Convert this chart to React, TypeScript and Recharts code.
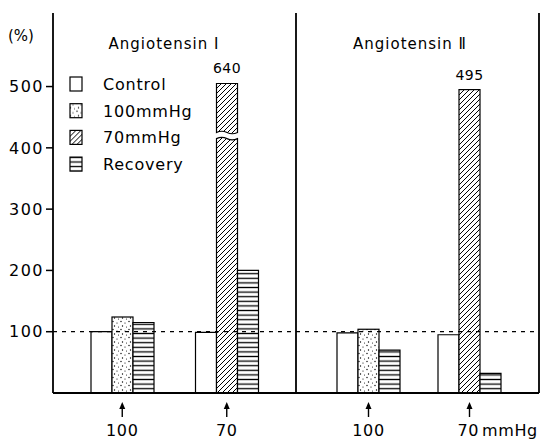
import React from 'react';
import { BarChart, Bar, XAxis, YAxis, ReferenceLine, Cell, LabelList } from 'recharts';

// values in % of control
const panelTitles = ['Angiotensin \u2160', 'Angiotensin \u2161'];
const categories = ['100', '70'];
const tickLabelsI = ['100', '70'];
const tickLabelsII = ['100', '70mmHg'];
const controlI = [100, 99];
const pressureI = [124, 640];
const recoveryI = [115, 200];
const controlII = [98, 95];
const pressureII = [104, 495];
const recoveryII = [70, 32];
const legendNames = ['Control', '100mmHg', '70mmHg', 'Recovery'];
const yTicks = [100, 200, 300, 400, 500];

const Y_MAX = 620;
const CAP = 505; // taller bars are drawn broken
const BREAK = [415, 425];
const FONT = 'DejaVu Sans';

const pressureFill: Record<string, string> = { '100': 'url(#stipple)', '70': 'url(#hatch)' };
const legendFills = ['#fff', 'url(#stipple)', 'url(#hatch)', 'url(#hlines)'];

const makeRows = (ticks: string[], c: number[], p: number[], r: number[]) =>
  categories.map((cat, i) => ({
    cat,
    tick: ticks[i],
    control: c[i],
    pressure: p[i],
    shown: Math.min(p[i], CAP),
    recovery: r[i],
  }));

const rowsI = makeRows(tickLabelsI, controlI, pressureI, recoveryI);
const rowsII = makeRows(tickLabelsII, controlII, pressureII, recoveryII);

const BrokenBar = (props: any) => {
  const { x, y, width, height, fill, payload } = props;
  if (payload.pressure <= CAP) {
    return <rect x={x} y={y} width={width} height={height} fill={fill} stroke="#000" strokeWidth={1.2} />;
  }
  const ppu = height / payload.shown;
  const base = y + height;
  const yA = base - BREAK[1] * ppu;
  const yB = base - BREAK[0] * ppu;
  const w = width;
  const upper = `M${x},${y} H${x + w} V${yA} Q${x + w * 0.75},${yA + 2.5} ${x + w / 2},${yA} Q${x + w * 0.25},${yA - 2.5} ${x},${yA} Z`;
  const lower = `M${x},${base} V${yB} Q${x + w * 0.25},${yB - 2.5} ${x + w / 2},${yB} Q${x + w * 0.75},${yB + 2.5} ${x + w},${yB} V${base} Z`;
  return (
    <g>
      <path d={upper} fill={fill} stroke="#000" strokeWidth={1.2} />
      <path d={lower} fill={fill} stroke="#000" strokeWidth={1.2} />
    </g>
  );
};

const ArrowTick = (props: any) => {
  const { x, y, payload } = props;
  const v = String(payload.value);
  const unit = v.endsWith('mmHg');
  const num = unit ? v.replace('mmHg', '') : v;
  return (
    <g>
      <line x1={x} x2={x} y1={y + 13} y2={y + 24} stroke="#000" strokeWidth={1.4} />
      <path d={`M${x - 3},${y + 16} L${x},${y + 9} L${x + 3},${y + 16} Z`} fill="#000" />
      <text
        x={unit ? x - 12 : x}
        y={y + 43}
        textAnchor={unit ? 'start' : 'middle'}
        fontFamily={FONT}
        fontSize={16}
        letterSpacing={0.6}
        fill="#000"
      >
        {num}
        {unit && <tspan dx={3}>mmHg</tspan>}
      </text>
    </g>
  );
};

const PeakLabel = (p: any) =>
  p.value > 300 ? (
    <text x={p.x + p.width / 2} y={p.y - 10} textAnchor="middle" fontFamily={FONT} fontSize={14} letterSpacing={0.5} fill="#000">
      {p.value}
    </text>
  ) : null;

const axisLine = { stroke: '#000', strokeWidth: 1.8 };

export default function App() {
  return (
    <div style={{ position: 'absolute', left: 0, top: 0, width: 543, height: 447, background: '#fff' }}>
      <svg width={0} height={0} style={{ position: 'absolute' }}>
        <defs>
          <pattern id="stipple" patternUnits="userSpaceOnUse" width={8} height={8}>
            <rect width={8} height={8} fill="#fff" />
            <circle cx={1} cy={1.5} r={0.7} fill="#000" />
            <circle cx={5} cy={3} r={0.6} fill="#000" />
            <circle cx={2.5} cy={6} r={0.7} fill="#000" />
            <circle cx={6.5} cy={7} r={0.5} fill="#000" />
          </pattern>
          <pattern id="hatch" patternUnits="userSpaceOnUse" width={5} height={5}>
            <rect width={5} height={5} fill="#fff" />
            <path d="M0,5 L5,0 M-1,1 L1,-1 M4,6 L6,4" stroke="#000" strokeWidth={1} />
          </pattern>
          <pattern id="hlines" patternUnits="userSpaceOnUse" width={4} height={4.6}>
            <rect width={4} height={4.6} fill="#fff" />
            <line x1={0} x2={4} y1={2.3} y2={2.3} stroke="#000" strokeWidth={1.3} />
          </pattern>
        </defs>
      </svg>

      {/* left panel: Angiotensin I, carries the y axis */}
      <div style={{ position: 'absolute', left: 0, top: 0 }}>
        <BarChart width={296} height={447} data={rowsI} margin={{ top: 13, right: 0, left: 0, bottom: 4 }} barGap={0} barSize={21}>
          <XAxis dataKey="tick" interval={0} height={50} padding={{ left: 17, right: 17 }} tickLine={false} tickSize={0} tickMargin={0} axisLine={axisLine} tick={<ArrowTick />} />
          <YAxis
            domain={[0, Y_MAX]}
            ticks={yTicks}
            width={53}
            tickSize={7}
            tickMargin={2}
            axisLine={axisLine}
            tickLine={{ stroke: '#000', strokeWidth: 1.5 }}
            tick={{ fill: '#000', fontSize: 16, fontFamily: FONT, letterSpacing: 1.5 }}
          />
          <ReferenceLine y={100} stroke="#000" strokeWidth={1.2} strokeDasharray="4 5" />
          <Bar dataKey="control" fill="#fff" stroke="#000" strokeWidth={1.2} isAnimationActive={false} />
          <Bar dataKey="shown" shape={<BrokenBar />} isAnimationActive={false}>
            {rowsI.map((r) => (
              <Cell key={r.cat} fill={pressureFill[r.cat]} />
            ))}
            <LabelList dataKey="pressure" content={PeakLabel} />
          </Bar>
          <Bar dataKey="recovery" fill="url(#hlines)" stroke="#000" strokeWidth={1.2} isAnimationActive={false} />
        </BarChart>
      </div>

      {/* right panel: Angiotensin II */}
      <div style={{ position: 'absolute', left: 294, top: 0 }}>
        <BarChart width={249} height={447} data={rowsII} margin={{ top: 13, right: 3, left: 1, bottom: 4 }} barGap={0} barSize={21}>
          <XAxis dataKey="tick" interval={0} height={50} padding={{ left: 22, right: 19 }} tickLine={false} tickSize={0} tickMargin={0} axisLine={axisLine} tick={<ArrowTick />} />
          <YAxis domain={[0, Y_MAX]} width={1} tick={false} tickLine={false} axisLine={axisLine} />
          <YAxis yAxisId="r" orientation="right" domain={[0, Y_MAX]} width={1} tick={false} tickLine={false} axisLine={axisLine} />
          <ReferenceLine y={100} stroke="#000" strokeWidth={1.2} strokeDasharray="4 5" />
          <Bar dataKey="control" fill="#fff" stroke="#000" strokeWidth={1.2} isAnimationActive={false} />
          <Bar dataKey="shown" shape={<BrokenBar />} isAnimationActive={false}>
            {rowsII.map((r) => (
              <Cell key={r.cat} fill={pressureFill[r.cat]} />
            ))}
            <LabelList dataKey="pressure" content={PeakLabel} />
          </Bar>
          <Bar dataKey="recovery" fill="url(#hlines)" stroke="#000" strokeWidth={1.2} isAnimationActive={false} />
        </BarChart>
      </div>

      <svg width={543} height={447} style={{ position: 'absolute', left: 0, top: 0, pointerEvents: 'none' }}>
        <text x={8} y={41} fontFamily={FONT} fontSize={15} fill="#000">(%)</text>
        <text x={164} y={49} textAnchor="middle" fontFamily={FONT} fontSize={15} letterSpacing={1} fill="#000">
          {panelTitles[0]}
        </text>
        <text x={410} y={49} textAnchor="middle" fontFamily={FONT} fontSize={15} letterSpacing={1} fill="#000">
          {panelTitles[1]}
        </text>
        {legendNames.map((name, i) => (
          <g key={name} transform={`translate(68, ${75 + i * 26.7})`}>
            <rect x={2} y={2} width={12} height={14} fill={legendFills[i]} stroke="#000" strokeWidth={1.2} />
            <text x={35} y={15} fontFamily={FONT} fontSize={16} fill="#000" letterSpacing={0.8}>
              {name}
            </text>
          </g>
        ))}
      </svg>
    </div>
  );
}
